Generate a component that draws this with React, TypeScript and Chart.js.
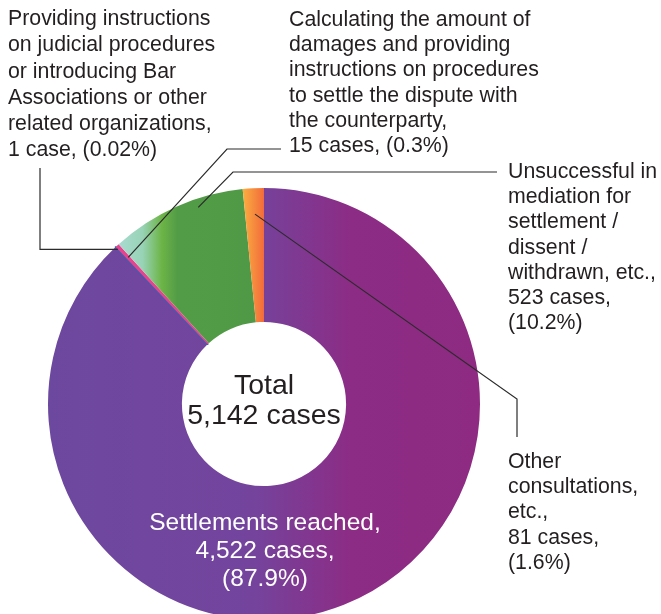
import React, { useEffect, useRef } from 'react';
import { Chart, registerables } from 'chart.js';

Chart.register(...registerables);

// ---------- data ----------
const categories = [
  'Settlements reached',
  'Providing instructions on judicial procedures or introducing Bar Associations or other related organizations',
  'Calculating the amount of damages and providing instructions on procedures to settle the dispute with the counterparty',
  'Unsuccessful in mediation for settlement / dissent / withdrawn, etc.',
  'Other consultations, etc.',
];
const caseCounts = [4522, 1, 15, 523, 81];
const percentLabels = ['87.9%', '0.02%', '0.3%', '10.2%', '1.6%'];
const totalLabel = ['Total', '5,142 cases'];
const nameLines = [
  ['Settlements reached,'],
  ['Providing instructions', 'on judicial procedures', 'or introducing Bar', 'Associations or other', 'related organizations,'],
  ['Calculating the amount of', 'damages and providing', 'instructions on procedures', 'to settle the dispute with', 'the counterparty,'],
  ['Unsuccessful in', 'mediation for', 'settlement /', 'dissent /', 'withdrawn, etc.,'],
  ['Other', 'consultations,', 'etc.,'],
];
const splitCountLine = [true, false, false, true, true];

// ---------- styles ----------
const FONT = '"Liberation Sans", Arial, Helvetica, sans-serif';
const TEXT_COLOR = '#231f20';
const solidColors = ['#7a3f99', '#3d5fb0', '#e8428f', '#54a04a', '#f58a3c'];
// gradient stops: x position relative to centre, in units of the outer radius
const gradientStops: (Array<[number, string]> | null)[] = [
  [[-1, '#6d489f'], [-0.05, '#74449d'], [0.4, '#8c2c85'], [1, '#8e2a81']],
  null,
  null,
  [[-0.69, '#acdcd6'], [-0.56, '#98d3b6'], [-0.47, '#6cb446'], [-0.4, '#539c47'], [0, '#4f9946']],
  [[-0.1, '#fbb040'], [0, '#f26b3b']],
];
const borderWidths = [0, 2, 0, 0, 0];

function caseText(n: number) {
  return `${n.toLocaleString('en-US')} ${n === 1 ? 'case' : 'cases'},`;
}
function blockLines(i: number) {
  const count = caseText(caseCounts[i]);
  const pct = `(${percentLabels[i]})`;
  return splitCountLine[i] ? [...nameLines[i], count, pct] : [...nameLines[i], `${count} ${pct}`];
}

type Pt = [number, number];
// leader lines: anchor inside slice (t = fraction along arc, rf = fraction of outer radius)
const leaders: { index: number; t: number; rf: number; path: (a: Pt) => Pt[] }[] = [
  { index: 1, t: 0.5, rf: 0.985, path: (a) => [[40, a[1]], [40, 168]] },
  { index: 2, t: 0.5, rf: 0.925, path: () => [[227, 149], [281, 149]] },
  { index: 3, t: 0.65, rf: 0.96, path: () => [[233, 172], [497, 172]] },
  { index: 4, t: 0.52, rf: 0.88, path: () => [[517, 399], [517, 437]] },
];

const leaderPlugin = {
  id: 'leaders',
  afterDatasetsDraw(chart: any) {
    const meta = chart.getDatasetMeta(0);
    const ctx = chart.ctx;
    ctx.save();
    ctx.strokeStyle = '#2b2b2b';
    ctx.lineWidth = 1.2;
    leaders.forEach((l) => {
      const arc = meta.data[l.index];
      if (!arc) return;
      const { x, y, startAngle, endAngle, outerRadius } = arc.getProps(['x', 'y', 'startAngle', 'endAngle', 'outerRadius'], true);
      const ang = startAngle + (endAngle - startAngle) * l.t;
      const r = outerRadius * l.rf;
      const a: Pt = [x + r * Math.cos(ang), y + r * Math.sin(ang)];
      const pts = [a, ...l.path(a)];
      ctx.beginPath();
      ctx.moveTo(pts[0][0], pts[0][1]);
      for (let k = 1; k < pts.length; k++) ctx.lineTo(pts[k][0], pts[k][1]);
      ctx.stroke();
    });
    ctx.restore();
  },
};

export default function App() {
  const ref = useRef<HTMLCanvasElement | null>(null);

  useEffect(() => {
    if (!ref.current) return;
    const bg = (c: any) => {
      const i = c.dataIndex;
      const stops = gradientStops[i];
      const area = c.chart.chartArea;
      if (!stops || !area) return solidColors[i];
      const cx = (area.left + area.right) / 2;
      const R = Math.min(area.right - area.left, area.bottom - area.top) / 2;
      const x0 = cx + stops[0][0] * R;
      const x1 = cx + stops[stops.length - 1][0] * R;
      const g = c.chart.ctx.createLinearGradient(x0, 0, x1, 0);
      stops.forEach(([p, col]) => g.addColorStop((cx + p * R - x0) / (x1 - x0), col));
      return g;
    };
    const chart = new Chart(ref.current, {
      type: 'doughnut',
      data: {
        labels: categories,
        datasets: [
          {
            data: caseCounts,
            backgroundColor: bg,
            borderColor: solidColors,
            borderWidth: borderWidths,
            borderAlign: 'center',
          } as any,
        ],
      },
      options: {
        responsive: false,
        animation: false,
        cutout: '38%',
        layout: { padding: { left: 47, right: 180, top: 187, bottom: 19 } },
        plugins: { legend: { display: false }, tooltip: { enabled: false } },
      },
      plugins: [leaderPlugin],
    });
    return () => chart.destroy();
  }, []);

  const textStyle: React.CSSProperties = {
    position: 'absolute',
    fontFamily: FONT,
    fontSize: 21.3,
    color: TEXT_COLOR,
    whiteSpace: 'nowrap',
  };
  const renderLines = (lines: string[]) => lines.map((s, k) => <div key={k}>{s}</div>);

  return (
    <div style={{ position: 'absolute', left: 0, top: 0, width: 661, height: 614, overflow: 'hidden', background: '#fff' }}>
      <canvas ref={ref} width={661} height={640} style={{ position: 'absolute', left: 0, top: 0, width: 661, height: 640 }} />
      <div style={{ ...textStyle, left: 8, top: 5, lineHeight: '26.3px' }}>{renderLines(blockLines(1))}</div>
      <div style={{ ...textStyle, left: 289, top: 7, lineHeight: '25.2px' }}>{renderLines(blockLines(2))}</div>
      <div style={{ ...textStyle, left: 508, top: 159, lineHeight: '25.2px' }}>{renderLines(blockLines(3))}</div>
      <div style={{ ...textStyle, left: 508, top: 449, lineHeight: '25.2px' }}>{renderLines(blockLines(4))}</div>
      <div style={{ ...textStyle, left: 265, top: 508, transform: 'translateX(-50%)', textAlign: 'center', color: '#fff', fontSize: 24.5, lineHeight: '28px' }}>
        {renderLines(blockLines(0))}
      </div>
      <div style={{ ...textStyle, left: 264, top: 369, transform: 'translateX(-50%)', textAlign: 'center', fontSize: 28.5, lineHeight: '30px' }}>
        {renderLines(totalLabel)}
      </div>
    </div>
  );
}
